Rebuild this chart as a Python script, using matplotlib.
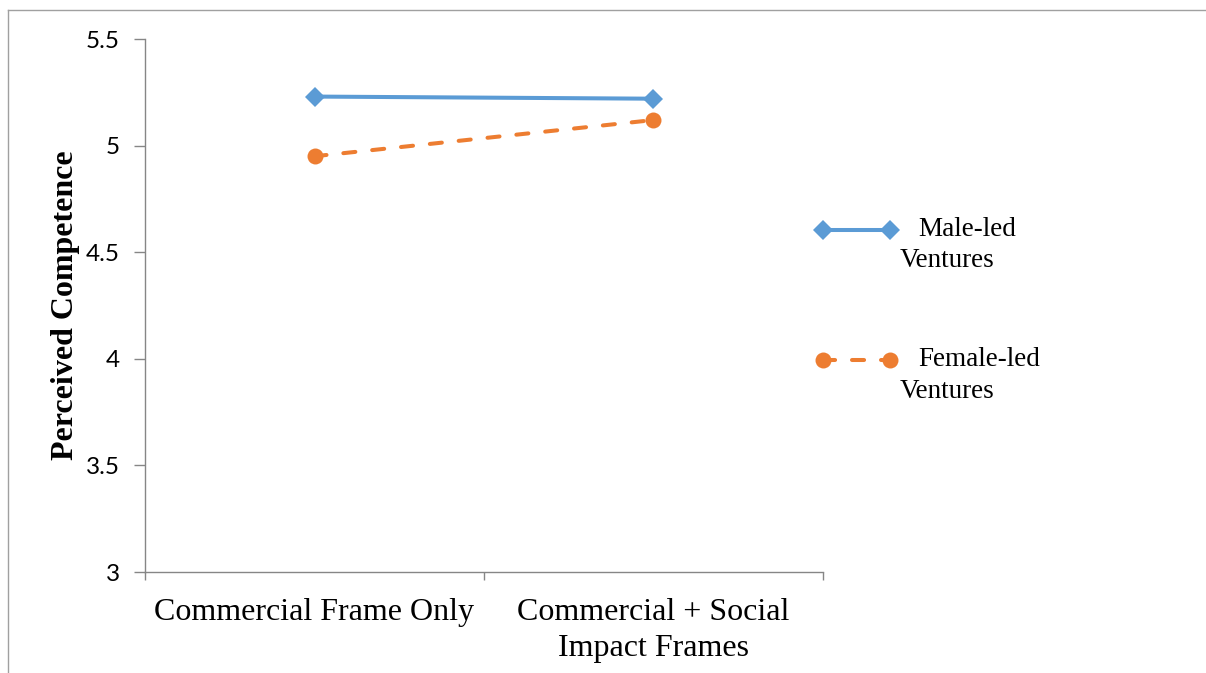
import matplotlib
matplotlib.use("Agg")
import matplotlib.pyplot as plt
from matplotlib.lines import Line2D

# data
categories = ["Commercial Frame Only", "Commercial + Social\nImpact Frames"]
series_names = ["Male-led Ventures", "Female-led Ventures"]
legend_first = ["Male-led", "Female-led"]
legend_second = ["Ventures", "Ventures"]
male_led = [5.23, 5.22]
female_led = [4.95, 5.12]
y_ticks = [3, 3.5, 4, 4.5, 5, 5.5]
y_tick_labels = ["3", "3.5", "4", "4.5", "5", "5.5"]

W, H = 1206, 673
fig = plt.figure(figsize=(W / 100, H / 100), dpi=100)
ax = fig.add_axes([145 / W, 1 - 572 / H, 678 / W, 533 / H])

axis_grey = "#868686"
blue = "#5B9BD5"
orange = "#ED7D31"

x_pos = [i + 0.5 for i in range(len(categories))]

styles = [
    dict(color=blue, lw=2.9, marker="D", markersize=10.5, markeredgewidth=0,
         solid_capstyle="round"),
    dict(color=orange, lw=2.9, marker="o", markersize=11.5, markeredgewidth=0,
         linestyle=(0, (3.0, 4.2)), dash_capstyle="round"),
]
for vals, st in zip([male_led, female_led], styles):
    ax.plot(x_pos, vals, **st)

ax.set_xlim(0, len(categories))
ax.set_ylim(3, 5.5)

for side in ["top", "right"]:
    ax.spines[side].set_visible(False)
for side in ["left", "bottom"]:
    ax.spines[side].set_color(axis_grey)
    ax.spines[side].set_linewidth(1.0)

ax.set_yticks(y_ticks)
ax.set_yticklabels(y_tick_labels, fontfamily="Lato", fontsize=17.5)
ax.tick_params(axis="y", length=8, width=1, color=axis_grey, pad=10)

ax.set_xticks(range(len(categories) + 1))
ax.set_xticklabels([])
ax.tick_params(axis="x", which="major", length=6, width=1, color=axis_grey)
ax.set_xticks(x_pos, minor=True)
ax.set_xticklabels(categories, minor=True, fontfamily="Liberation Serif",
                   fontsize=23, linespacing=1.3)
ax.tick_params(axis="x", which="minor", length=0, pad=19)

ax.set_ylabel("Perceived Competence", fontfamily="Liberation Serif",
              fontweight="bold", fontsize=23, labelpad=4)

# legend, drawn by hand to keep the wrapped labels like the original
legend_rows = [230, 360]
for st, first, second, row in zip(styles, legend_first, legend_second, legend_rows):
    yf = 1 - row / H
    fig.add_artist(Line2D([823 / W, 890 / W], [yf, yf], transform=fig.transFigure, **st))
    fig.text(918 / W, yf, first, fontfamily="Liberation Serif", fontsize=19.5,
             va="center", ha="left")
    fig.text(900 / W, 1 - (row + 31) / H, second, fontfamily="Liberation Serif",
             fontsize=19.5, va="center", ha="left")

# outer chart frame (only top and left edges are visible)
frame = dict(color="#A0A0A0", lw=1.0, transform=fig.transFigure)
fig.add_artist(Line2D([8 / W, 1], [1 - 10 / H, 1 - 10 / H], **frame))
fig.add_artist(Line2D([8 / W, 8 / W], [0, 1 - 10 / H], **frame))

fig.savefig("out.png", dpi=100, facecolor="white")
